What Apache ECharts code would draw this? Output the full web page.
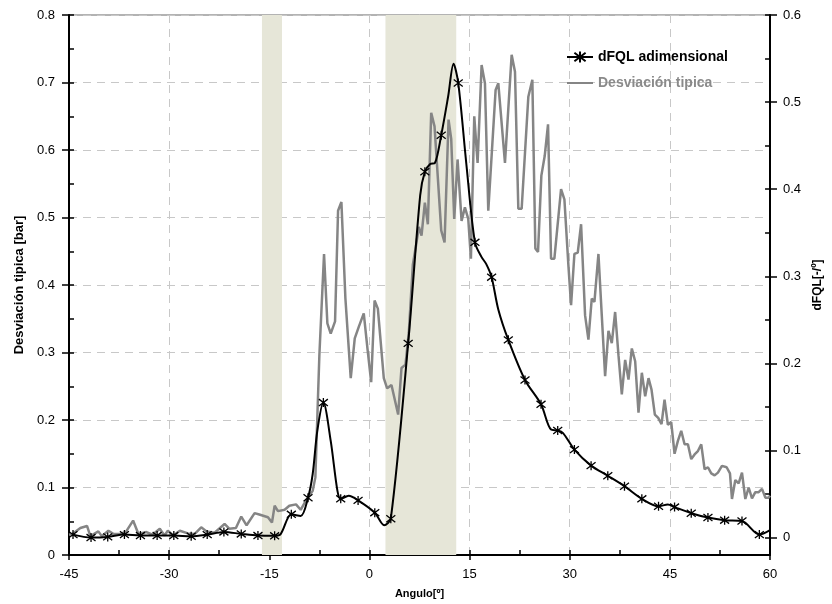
<!DOCTYPE html>
<html>
<head>
<meta charset="utf-8">
<script src="https://cdn.jsdelivr.net/npm/echarts@6/dist/echarts.min.js"></script>
<style>
html,body{margin:0;padding:0;background:#fff;}
#chart{width:832px;height:604px;}
</style>
</head>
<body>
<div id="chart"></div>
<script>
// Desviacion tipica [bar] (eje izquierdo)
var angulos=[-45.0,-44.5,-43.3,-42.3,-41.8,-40.6,-40.1,-39.1,-38.3,-37.5,-36.5,-35.4,-34.6,-33.4,-32.5,-31.4,-30.7,-30.2,-29.4,-28.4,-27.2,-26.2,-25.2,-24.4,-23.2,-21.7,-21.0,-20.0,-19.2,-18.4,-17.2,-16.5,-15.2,-14.6,-14.2,-13.7,-12.7,-12.0,-11.0,-10.3,-9.5,-8.5,-8.1,-7.5,-6.8,-6.3,-5.8,-5.15,-4.7,-4.2,-3.6,-2.8,-2.2,-1.6,-0.85,-0.3,0.26,0.77,1.26,2.15,2.65,3.3,4.3,4.8,5.4,5.9,6.5,7.0,7.4,7.8,8.3,8.75,9.25,9.75,10.75,11.25,11.85,12.25,12.7,13.2,13.8,14.3,14.8,15.2,15.7,16.2,16.8,17.3,17.8,18.9,19.3,20.3,21.3,21.8,22.3,22.8,23.8,24.4,24.85,25.25,25.75,26.25,26.75,27.2,27.7,28.7,29.2,29.8,30.2,30.7,31.2,31.7,32.3,32.8,33.3,33.7,34.3,34.8,35.3,35.8,36.3,36.8,37.3,37.8,38.3,38.8,39.3,39.8,40.3,40.8,41.3,41.8,42.25,42.75,43.25,43.75,44.2,44.7,45.2,45.7,46.2,46.7,47.2,47.7,48.2,48.7,49.2,49.7,50.2,50.7,51.2,51.7,52.2,52.8,53.5,54.0,54.3,54.8,55.3,55.8,56.3,56.8,57.3,57.8,58.3,58.8,59.3,59.8,60.0];
var desviacion=[0.030,0.031,0.040,0.043,0.028,0.035,0.028,0.036,0.031,0.031,0.034,0.051,0.031,0.034,0.030,0.039,0.029,0.036,0.029,0.036,0.032,0.031,0.041,0.035,0.033,0.046,0.039,0.040,0.057,0.044,0.062,0.060,0.056,0.048,0.073,0.065,0.067,0.073,0.075,0.067,0.081,0.095,0.115,0.296,0.446,0.343,0.328,0.346,0.510,0.523,0.380,0.262,0.321,0.338,0.358,0.306,0.256,0.377,0.365,0.262,0.247,0.252,0.208,0.277,0.282,0.330,0.430,0.460,0.486,0.473,0.522,0.490,0.655,0.635,0.481,0.463,0.645,0.616,0.498,0.586,0.495,0.515,0.498,0.439,0.650,0.581,0.726,0.699,0.510,0.689,0.699,0.581,0.741,0.716,0.513,0.513,0.679,0.704,0.454,0.449,0.562,0.591,0.638,0.439,0.439,0.542,0.527,0.429,0.370,0.446,0.448,0.490,0.355,0.319,0.380,0.375,0.446,0.355,0.265,0.332,0.314,0.360,0.296,0.238,0.289,0.260,0.306,0.287,0.211,0.270,0.235,0.262,0.245,0.208,0.203,0.194,0.230,0.193,0.197,0.150,0.169,0.184,0.164,0.164,0.142,0.149,0.154,0.164,0.127,0.130,0.121,0.118,0.122,0.132,0.130,0.121,0.083,0.111,0.106,0.122,0.083,0.100,0.084,0.093,0.093,0.098,0.085,0.085,0.088];

// dFQL adimensional (eje derecho), puntos con marcador
var dfqlAngulos=[-44.4,-41.7,-39.2,-36.7,-34.3,-31.8,-29.3,-26.7,-24.3,-21.8,-19.2,-16.7,-14.2,-11.7,-9.2,-6.9,-4.3,-1.7,0.8,3.2,5.8,8.3,10.75,13.3,15.8,18.3,20.8,23.3,25.7,28.2,30.7,33.2,35.7,38.2,40.8,43.3,45.7,48.2,50.7,53.2,55.8,58.4];
var dfqlValores=[0.0034,0.0,0.0008,0.0034,0.0023,0.0023,0.0023,0.0015,0.0034,0.0065,0.0042,0.0023,0.0020,0.0267,0.0457,0.155,0.0445,0.0427,0.0286,0.0217,0.223,0.420,0.462,0.522,0.339,0.299,0.227,0.181,0.153,0.123,0.101,0.0826,0.071,0.059,0.0445,0.036,0.035,0.028,0.023,0.020,0.019,0.0034];
// puntos intermedios de la curva sin marcador
var dfqlExtraAngulos=[-13.3,-10.3,-8.5,-7.8,-5.8,-4.8,-3.1,2.2,7.6,9.1,9.8,11.8,12.6,14.5,16.8,17.5,19.3,27.2,29.0,44.7,60.0];
var dfqlExtraValores=[0.004,0.0248,0.073,0.123,0.111,0.054,0.048,0.0142,0.393,0.429,0.430,0.507,0.544,0.43,0.322,0.314,0.262,0.124,0.120,0.038,0.0085];

var bandas=[[-16.1,-13.1],[2.4,13.0]];
var ticksDerecha=[0,0.1,0.2,0.3,0.4,0.5,0.6];
var ticksMenoresDerecha=[0,0.05,0.1,0.15,0.2,0.25,0.3,0.35,0.4,0.45,0.5,0.55,0.6];

var fuente='Liberation Sans, Arial, sans-serif';
var estrella='path://M0,0L10,10M0,10L10,0M5,-1.5L5,11.5';

function datosDesviacion(){
	var d=[];
	for(var i=0;i<angulos.length;i++){
		d.push([angulos[i],desviacion[i]]);
	}
	return d;
}
function datosDfql(){
	var d=[];
	for(var i=0;i<dfqlAngulos.length;i++){
		d.push({value:[dfqlAngulos[i],dfqlValores[i]]});
	}
	for(var j=0;j<dfqlExtraAngulos.length;j++){
		d.push({value:[dfqlExtraAngulos[j],dfqlExtraValores[j]],symbol:'none'});
	}
	d.sort(function(a,b){return a.value[0]-b.value[0];});
	return d;
}

var chart=echarts.init(document.getElementById('chart'));
var option={
	animation:false,
	textStyle:{fontFamily:fuente},
	grid:{left:69,right:59,top:15,bottom:46,show:true,borderColor:'#666',borderWidth:1},
	legend:{
		orient:'vertical',left:561,top:45,itemWidth:26,itemHeight:14,itemGap:12,
		textStyle:{fontFamily:fuente,fontSize:14,fontWeight:'bold'},
		data:[
			{name:'dFQL adimensional',textStyle:{color:'#000'}},
			{name:'Desviación tipica',textStyle:{color:'#8a8a8a'},itemStyle:{opacity:0}}//solo la linea
		]
	},
	xAxis:[{
		type:'value',min:-45,max:60,interval:15,position:'bottom',
		name:'Angulo[º]',nameLocation:'middle',nameGap:33,
		nameTextStyle:{fontFamily:fuente,fontSize:11,fontWeight:'bold',color:'#000'},
		axisLine:{onZero:false,lineStyle:{color:'#000',width:2}},
		axisTick:{length:5,lineStyle:{color:'#000',width:1.5}},
		axisLabel:{color:'#000',fontSize:13,margin:13},
		splitLine:{show:true,lineStyle:{color:'#c8c8c8',type:[8,6],width:1}}
	},{
		type:'value',min:-45,max:60,interval:7.5,position:'bottom',
		axisLine:{show:false,onZero:false},
		axisTick:{inside:true,length:5,lineStyle:{color:'#000',width:1.5}},
		axisLabel:{show:false},splitLine:{show:false}
	}],
	yAxis:[{
		type:'value',min:0,max:0.8,interval:0.1,position:'left',
		name:'Desviación tipica [bar]',nameLocation:'middle',nameGap:37,
		nameTextStyle:{fontFamily:fuente,fontSize:13,fontWeight:'bold',color:'#000'},
		axisLine:{onZero:false,lineStyle:{color:'#000',width:2}},
		axisTick:{length:7,lineStyle:{color:'#000',width:1.5}},
		axisLabel:{color:'#000',fontSize:13,margin:14},
		splitLine:{show:true,lineStyle:{color:'#c8c8c8',type:[8,6],width:1}}
	},{
		type:'value',min:-0.02,max:0.6,position:'right',
		name:'dFQL[-/º]',nameLocation:'middle',nameGap:30,nameRotate:90,
		nameTextStyle:{fontFamily:fuente,fontSize:12,fontWeight:'bold',color:'#000'},
		axisLine:{onZero:false,lineStyle:{color:'#000',width:2}},
		axisTick:{length:7,customValues:ticksDerecha,lineStyle:{color:'#000',width:1.5}},
		axisLabel:{color:'#000',fontSize:13,margin:13,customValues:ticksDerecha},
		splitLine:{show:false}
	},{
		type:'value',min:0,max:0.8,interval:0.05,position:'left',
		axisLine:{show:false,onZero:false},
		axisTick:{inside:true,length:5,lineStyle:{color:'#000',width:1.5}},
		axisLabel:{show:false},splitLine:{show:false}
	},{
		type:'value',min:-0.02,max:0.6,position:'right',
		axisLine:{show:false,onZero:false},
		axisTick:{inside:true,length:5,customValues:ticksMenoresDerecha,lineStyle:{color:'#000',width:1.5}},
		axisLabel:{show:false},splitLine:{show:false}
	}],
	series:[{
		name:'bandas',type:'line',data:[],z:-1,silent:true,
		markArea:{silent:true,itemStyle:{color:'#e6e6d8'},
			data:bandas.map(function(b){return [{xAxis:b[0]},{xAxis:b[1]}];})}
	},{
		name:'Desviación tipica',type:'line',xAxisIndex:0,yAxisIndex:0,
		data:datosDesviacion(),symbol:'none',z:3,
		lineStyle:{color:'#858585',width:2.5},itemStyle:{color:'#858585'}
	},{
		name:'dFQL adimensional',type:'line',xAxisIndex:0,yAxisIndex:1,
		data:datosDfql(),smooth:0.3,symbol:estrella,symbolSize:9,showAllSymbol:true,z:4,
		lineStyle:{color:'#000',width:2},
		itemStyle:{color:'#000',borderColor:'#000',borderWidth:1.3}
	}]
};
chart.setOption(option);
</script>
</body>
</html>
